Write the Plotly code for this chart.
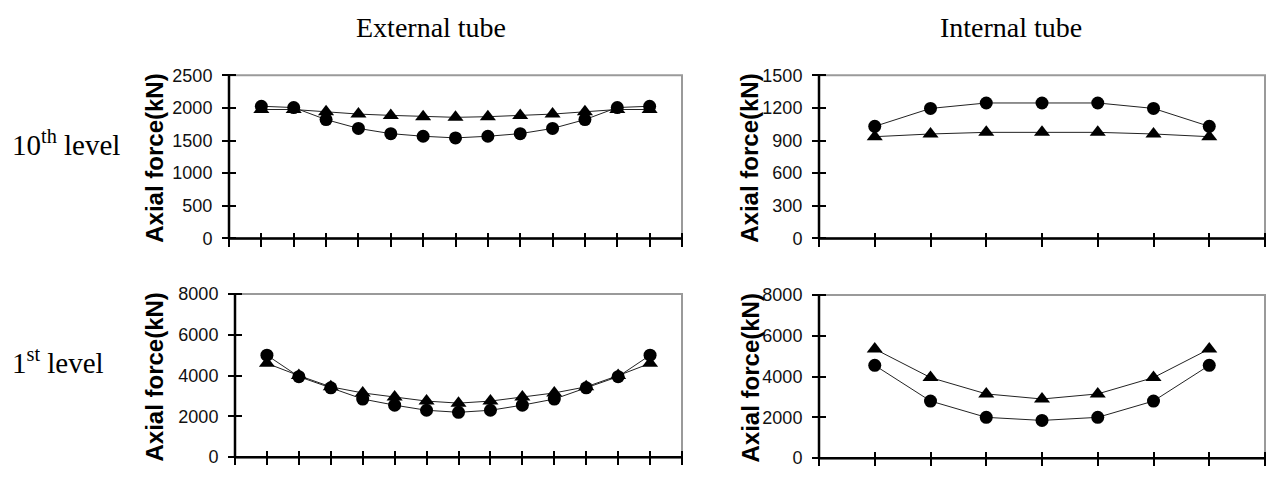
import plotly.graph_objects as go

# ---- data ----
ext_x = list(range(1, 14))
int_x = list(range(1, 8))

ext10_circle = [2025, 2005, 1820, 1685, 1605, 1565, 1540, 1565, 1605, 1685, 1820, 2005, 2025]
ext10_tri = [1975, 1975, 1940, 1905, 1885, 1865, 1855, 1865, 1885, 1905, 1940, 1975, 1975]

int10_circle = [1030, 1195, 1245, 1245, 1245, 1195, 1030]
int10_tri = [935, 960, 975, 975, 975, 960, 935]

ext1_circle = [5000, 3950, 3400, 2850, 2550, 2300, 2200, 2300, 2550, 2850, 3400, 3950, 5000]
ext1_tri = [4600, 4000, 3450, 3150, 2950, 2750, 2650, 2750, 2950, 3150, 3450, 4000, 4600]

int1_circle = [4550, 2800, 2000, 1850, 2000, 2800, 4550]
int1_tri = [5350, 3950, 3150, 2900, 3150, 3950, 5350]

col_titles = ["External tube", "Internal tube"]
row_titles = ["10<sup>th</sup> level", "1<sup>st</sup> level"]
y_title = "Axial force(kN)"

W, H = 1271, 495
HALF_TICK = 7  # ticks cross the axis line: 7 px on each side

def px(x):
    return x / W

def py(y):
    return 1 - y / H

# panel geometry (pixels)
panels = [
    # (x0, x1, ytop, ybottom, xmax, ymax, dtick)
    (229, 682, 68, 238, 14, 2500, 500),
    (819, 1265, 68, 238, 8, 1500, 300),
    (235, 682, 296, 466, 14, 8000, 2000),
    (819, 1265, 297, 467, 8, 8000, 2000),
]
series = [
    (ext_x, ext10_circle, ext10_tri),
    (int_x, int10_circle, int10_tri),
    (ext_x, ext1_circle, ext1_tri),
    (int_x, int1_circle, int1_tri),
]

fig = go.Figure()
tickfont = dict(family="Arial, Liberation Sans, sans-serif", size=18, color="#111")
layout = dict(
    width=W, height=H,
    margin=dict(l=0, r=0, t=0, b=0),
    paper_bgcolor="white", plot_bgcolor="rgba(0,0,0,0)",
    showlegend=False,
)
shapes = []
annotations = []

for i, ((x0, x1, yt, yb, xmax, ymax, dt), (xs, circ, tri)) in enumerate(zip(panels, series)):
    n = i + 1
    xa = "x" if n == 1 else f"x{n}"
    ya = "y" if n == 1 else f"y{n}"
    xdom = [px(x0), px(x1)]
    ydom = [py(yb), py(yt)]
    xticks = list(range(0, xmax + 1))
    yticks = list(range(0, ymax + 1, dt))
    # axes are shifted half a tick into the plot so their outside ticks cross the drawn axis line
    layout["xaxis" if n == 1 else f"xaxis{n}"] = dict(
        range=[0, xmax], domain=xdom, anchor="free", position=py(yb - HALF_TICK),
        tickmode="array", tickvals=xticks,
        showticklabels=False, showgrid=False, zeroline=False, showline=False,
        ticks="outside", tickwidth=2, ticklen=2 * HALF_TICK, tickcolor="black")
    layout["yaxis" if n == 1 else f"yaxis{n}"] = dict(
        range=[0, ymax], domain=ydom, anchor="free", position=px(x0 + HALF_TICK),
        tickmode="array", tickvals=yticks,
        showgrid=False, zeroline=False, showline=False,
        ticks="outside", tickwidth=2, ticklen=2 * HALF_TICK, tickcolor="black",
        tickfont=tickfont, ticklabelstandoff=6)
    # data
    fig.add_trace(go.Scatter(x=xs, y=tri, xaxis=xa, yaxis=ya, mode="lines+markers",
                             line=dict(color="#222", width=1),
                             marker=dict(symbol="triangle-up", size=14, color="black")))
    fig.add_trace(go.Scatter(x=xs, y=circ, xaxis=xa, yaxis=ya, mode="lines+markers",
                             line=dict(color="#222", width=1),
                             marker=dict(symbol="circle", size=13, color="black")))
    # gray plot border, then black left/bottom axis lines
    shapes.append(dict(type="rect", xref=f"{xa} domain", yref=f"{ya} domain",
                       x0=0, x1=1, y0=0, y1=1, line=dict(color="#9a9a9a", width=2), layer="below"))
    shapes.append(dict(type="line", xref=f"{xa} domain", yref=f"{ya} domain",
                       x0=0, x1=1, y0=0, y1=0, line=dict(color="black", width=2.5), layer="above"))
    shapes.append(dict(type="line", xref=f"{xa} domain", yref=f"{ya} domain",
                       x0=0, x1=0, y0=0, y1=1, line=dict(color="black", width=2.5), layer="above"))
    # y title
    annotations.append(dict(text=f"<b>{y_title}</b>", textangle=-90, xref="paper", yref="paper",
                            x=px(155 if i in (0, 2) else 750), y=py((yt + yb) / 2 + 2),
                            xanchor="center", yanchor="middle", showarrow=False,
                            font=dict(family="Arial, Liberation Sans, sans-serif", size=24, color="black")))

serif = dict(family="Times New Roman, Liberation Serif, serif", size=28, color="black")
serif_row = dict(family="Times New Roman, Liberation Serif, serif", size=29, color="black")
for t, xc in zip(col_titles, [431, 1011]):
    annotations.append(dict(text=t, xref="paper", yref="paper", x=px(xc), y=py(18),
                            xanchor="center", yanchor="middle", showarrow=False, font=serif))
for t, yc in zip(row_titles, [139, 366]):
    annotations.append(dict(text=t, xref="paper", yref="paper", x=px(10), y=py(yc),
                            xanchor="left", yanchor="middle", showarrow=False, font=serif_row))

layout["shapes"] = shapes
layout["annotations"] = annotations
fig.update_layout(**layout)
fig.write_html("out.html")
